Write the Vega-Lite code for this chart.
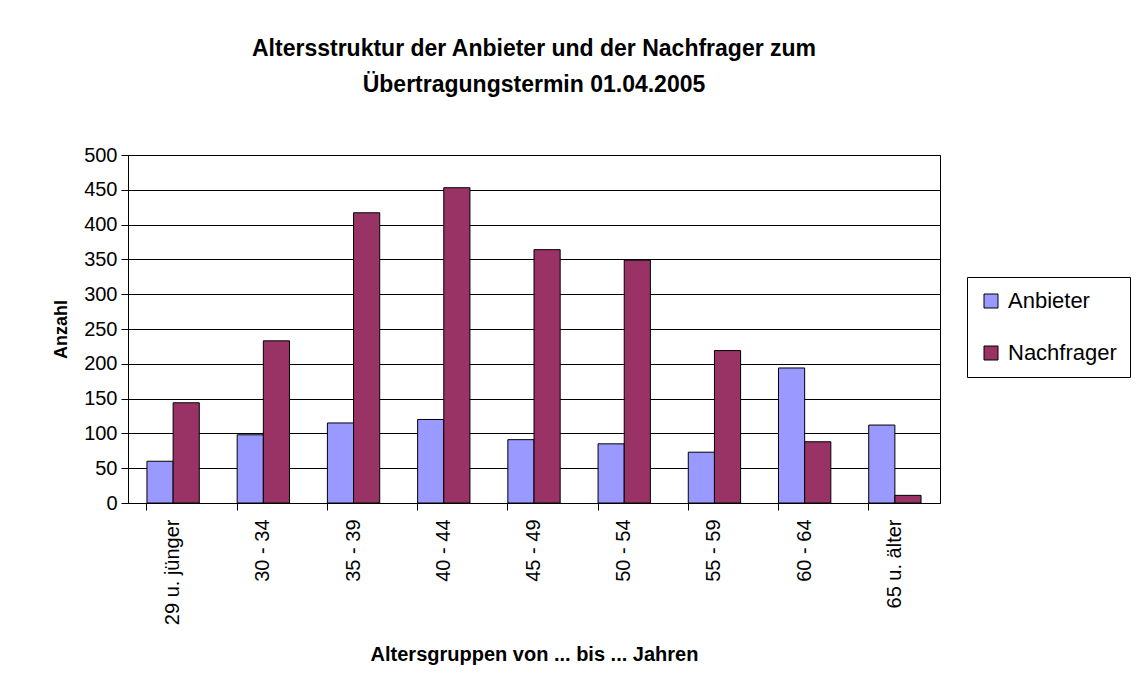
{
  "$schema": "https://vega.github.io/schema/vega-lite/v6.json",
  "autosize": "none",
  "width": 812,
  "height": 348,
  "padding": {"left": 128, "top": 155, "right": 205, "bottom": 189},
  "background": "white",
  "title": {
    "text": ["Altersstruktur der Anbieter und der Nachfrager zum", "Übertragungstermin 01.04.2005"],
    "font": "Liberation Sans",
    "fontSize": 23,
    "fontWeight": "bold",
    "color": "black",
    "anchor": "middle",
    "lineHeight": 36,
    "offset": 48
  },
  "data": {
    "values": [
      {"gruppe": "29 u. jünger", "serie": "Anbieter", "anzahl": 60},
      {"gruppe": "29 u. jünger", "serie": "Nachfrager", "anzahl": 144},
      {"gruppe": "30 - 34", "serie": "Anbieter", "anzahl": 98},
      {"gruppe": "30 - 34", "serie": "Nachfrager", "anzahl": 233},
      {"gruppe": "35 - 39", "serie": "Anbieter", "anzahl": 115},
      {"gruppe": "35 - 39", "serie": "Nachfrager", "anzahl": 417},
      {"gruppe": "40 - 44", "serie": "Anbieter", "anzahl": 120},
      {"gruppe": "40 - 44", "serie": "Nachfrager", "anzahl": 453},
      {"gruppe": "45 - 49", "serie": "Anbieter", "anzahl": 91},
      {"gruppe": "45 - 49", "serie": "Nachfrager", "anzahl": 364},
      {"gruppe": "50 - 54", "serie": "Anbieter", "anzahl": 85},
      {"gruppe": "50 - 54", "serie": "Nachfrager", "anzahl": 349},
      {"gruppe": "55 - 59", "serie": "Anbieter", "anzahl": 73},
      {"gruppe": "55 - 59", "serie": "Nachfrager", "anzahl": 219},
      {"gruppe": "60 - 64", "serie": "Anbieter", "anzahl": 194},
      {"gruppe": "60 - 64", "serie": "Nachfrager", "anzahl": 88},
      {"gruppe": "65 u. älter", "serie": "Anbieter", "anzahl": 112},
      {"gruppe": "65 u. älter", "serie": "Nachfrager", "anzahl": 11}
    ]
  },
  "layer": [
    {
      "mark": {"type": "bar", "stroke": "black", "strokeWidth": 1},
      "encoding": {
        "x": {
          "field": "gruppe",
          "type": "nominal",
          "sort": null,
          "scale": {"paddingInner": 0.42, "paddingOuter": 0.21},
          "axis": {
            "orient": "bottom",
            "title": "Altersgruppen von ... bis ... Jahren",
            "titleFont": "Liberation Sans",
            "titleFontSize": 20,
            "titleFontWeight": "bold",
            "titleColor": "black",
            "titlePadding": 20,
            "labelAngle": -90,
            "labelFont": "Liberation Sans",
            "labelFontSize": 20,
            "labelColor": "black",
            "labelPadding": 16,
            "ticks": false,
            "domain": false,
            "grid": false
          }
        },
        "xOffset": {"field": "serie", "type": "nominal", "scale": {"paddingInner": 0, "paddingOuter": 0}},
        "y": {
          "field": "anzahl",
          "type": "quantitative",
          "scale": {"domain": [0, 500], "nice": false},
          "axis": {
            "values": [0, 50, 100, 150, 200, 250, 300, 350, 400, 450, 500],
            "title": "Anzahl",
            "titleFont": "Liberation Sans",
            "titleFontSize": 18,
            "titleFontWeight": "bold",
            "titleColor": "black",
            "titlePadding": 13,
            "labelFont": "Liberation Sans",
            "labelFontSize": 20,
            "labelColor": "black",
            "labelPadding": 4,
            "tickColor": "black",
            "tickSize": 7,
            "domainColor": "black",
            "gridColor": "black",
            "gridOpacity": 1,
            "grid": true
          }
        },
        "color": {
          "field": "serie",
          "type": "nominal",
          "scale": {"domain": ["Anbieter", "Nachfrager"], "range": ["#9999FF", "#993366"]},
          "legend": {
            "title": null,
            "orient": "none",
            "legendX": 839,
            "legendY": 122,
            "strokeColor": "black",
            "fillColor": "white",
            "padding": 13,
            "rowPadding": 30,
            "symbolType": "square",
            "symbolSize": 196,
            "symbolStrokeColor": "black",
            "symbolStrokeWidth": 1,
            "symbolOpacity": 1,
            "labelFont": "Liberation Sans",
            "labelFontSize": 22,
            "labelColor": "black",
            "labelOffset": 6,
            "labelLimit": 200
          }
        }
      }
    },
    {
      "mark": {"type": "tick", "opacity": 0},
      "encoding": {
        "x": {
          "field": "gruppe",
          "type": "nominal",
          "sort": null,
          "axis": {
            "orient": "bottom",
            "bandPosition": 0,
            "labels": false,
            "title": null,
            "ticks": true,
            "tickColor": "black",
            "tickSize": 7,
            "domain": true,
            "domainColor": "black",
            "grid": false
          }
        }
      }
    }
  ],
  "resolve": {"axis": {"x": "independent"}},
  "config": {
    "view": {"stroke": "black", "strokeWidth": 1},
    "font": "Liberation Sans"
  }
}
